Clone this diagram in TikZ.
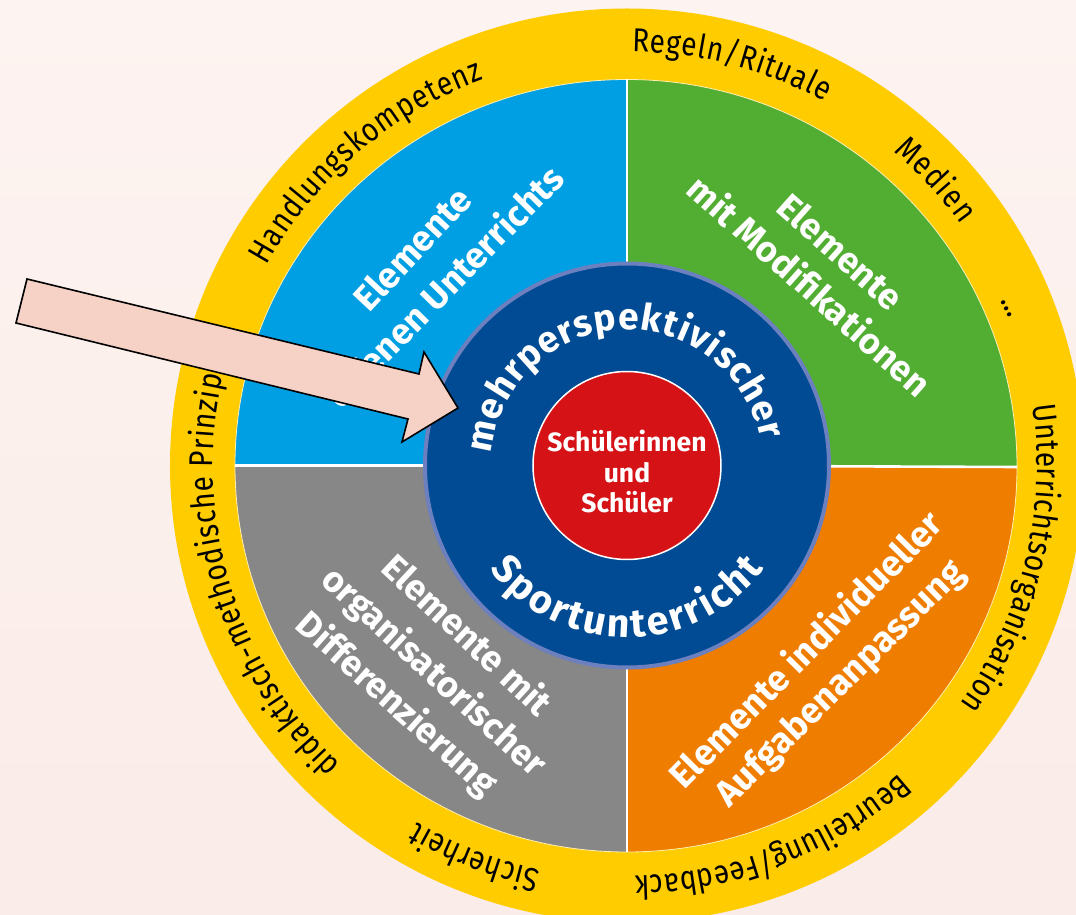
\documentclass[tikz,border=0pt]{standalone}
\usepackage{fontspec}
\setmainfont{Fira Sans}
\newfontfamily\ringfam[FakeStretch=0.845]{Fira Sans}
\usetikzlibrary{decorations.text}
\definecolor{bgtop}{HTML}{FDF3F0}
\definecolor{bgbot}{HTML}{FAECE8}
\definecolor{ringyellow}{HTML}{FFCC00}
\definecolor{qblue}{HTML}{009FE3}
\definecolor{qgreen}{HTML}{52AE32}
\definecolor{qorange}{HTML}{EF7D00}
\definecolor{qgray}{HTML}{878787}
\definecolor{navy}{HTML}{004B93}
\definecolor{navyedge}{HTML}{6C7FBE}
\definecolor{redcore}{HTML}{D51317}
\definecolor{arrowpink}{HTML}{F6D2C6}
\newcommand{\pathtext}[6]{% start, end, radius, colour, font, text
  \path[decorate,decoration={text along path,text align={fit to path},text color=#4,
    text={|#5|#6}}] (#1:#3) arc[start angle=#1,end angle=#2,radius=#3];}
\newcommand{\ringfont}{\ringfam\fontsize{33}{33}\selectfont}
\newcommand{\midfont}{\bfseries\fontsize{37}{37}\selectfont}
\newcommand{\sportfont}{\bfseries\fontsize{39.5}{39.5}\selectfont}
\tikzset{
  quad/.style={draw=white!70!ringyellow,line width=0.8pt,line join=miter},
  divider/.style={draw=white,line width=2.6pt},
  qtext/.style={text=white,font=\bfseries\fontsize{36}{36}\selectfont,anchor=base,inner sep=0pt,outer sep=0pt},
}
\begin{document}
\begin{tikzpicture}[x=1pt,y=1pt]
\useasboundingbox (-627,-449.5) rectangle (449,465.5);
\clip (-627,-449.5) rectangle (449,465.5);
\shade[top color=bgtop,bottom color=bgbot] (-627,-449.5) rectangle (449,465.5);
\fill[ringyellow] (0,0) circle[radius=457];
\coordinate (c) at (0,0);
\coordinate (qt) at (0,386);
\coordinate (qb) at (0,-386.5);
\coordinate (ql) at (-392,0);
\coordinate (qr) at (390,-1.5);
\filldraw[quad,fill=qgreen] (c) -- (qt) arc[start angle=90,end angle=0,x radius=390,y radius=387.5] -- cycle;
\filldraw[quad,fill=qblue] (c) -- (qt) arc[start angle=90,end angle=180,x radius=392,y radius=386] -- cycle;
\filldraw[quad,fill=qgray] (c) -- (ql) arc[start angle=180,end angle=270,x radius=392,y radius=386.5] -- cycle;
\filldraw[quad,fill=qorange] (c) -- (qr) arc[start angle=0,end angle=-90,x radius=390,y radius=385] -- cycle;
\draw[divider] (qt) -- (qb);
\draw[divider] (ql) -- (c) -- (qr);
% ring labels
\pathtext{151}{110.3}{412}{black}{\ringfont}{Handlungskompetenz}
\pathtext{89.3}{61.5}{414}{black}{\ringfont}{Regeln/Rituale}
\pathtext{49.7}{35.8}{412}{black}{\ringfont}{Medien}
\pathtext{8.4}{-35.6}{410}{black}{\ringfont}{Unterrichtsorganisation}
\pathtext{-48.5}{-88.9}{411}{black}{\ringfont}{Beurteilung/Feedback}
\pathtext{-102}{-120.5}{414}{black}{\ringfont}{Sicherheit}
\pathtext{-133.7}{-192.5}{414}{black}{\ringfont}{didaktisch-methodische Prinzip}
\node[rotate=-66,anchor=base,inner sep=0pt,font=\ringfont] (dots) at (378,156) {...};
% quadrant labels
\node[qtext,rotate=47] (b1) at (-205,208) {Elemente};
\node[qtext,rotate=45.5] (b2) at (-173,170) {offenen Unterrichts};
\node[qtext,rotate=-41.7] (g1) at (205,204) {Elemente};
\node[qtext,rotate=-41.6] (g2) at (174,170) {mit Modifikationen};
\node[qtext,rotate=-43] (y1) at (-168,-179) {Elemente mit};
\node[qtext,rotate=-42.6] (y2) at (-201,-215) {organisatorischer};
\node[qtext,rotate=-41.8] (y3) at (-238,-247) {Differenzierung};
\node[qtext,rotate=45.4] (o1) at (188,-193) {Elemente individueller};
\node[qtext,rotate=44.6] (o2) at (221,-226) {Aufgabenanpassung};
% centre
\filldraw[fill=navy,draw=navyedge,line width=4pt] (c) circle[radius=202];
\pathtext{175}{11}{136}{white}{\midfont}{mehrperspektivischer}
\pathtext{-143}{-37}{172}{white}{\sportfont}{Sportunterricht}
\filldraw[fill=redcore,draw=white,line width=1.5pt] (c) circle[radius=94];
\node[align=center,text=white,font=\bfseries\fontsize{26.5}{30.5}\selectfont,inner sep=0pt] (core) at (0,-6) {Schülerinnen\\und\\Schüler};
% arrow
\filldraw[fill=arrowpink,draw=black,line width=1.6pt,line join=miter]
  (-600,186.5) -- (-611,142.5) -- (-219,46.5) -- (-225,23.5) -- (-169,57.5) -- (-203,113.5) -- (-208,91.5) -- cycle;
\end{tikzpicture}
\end{document}
